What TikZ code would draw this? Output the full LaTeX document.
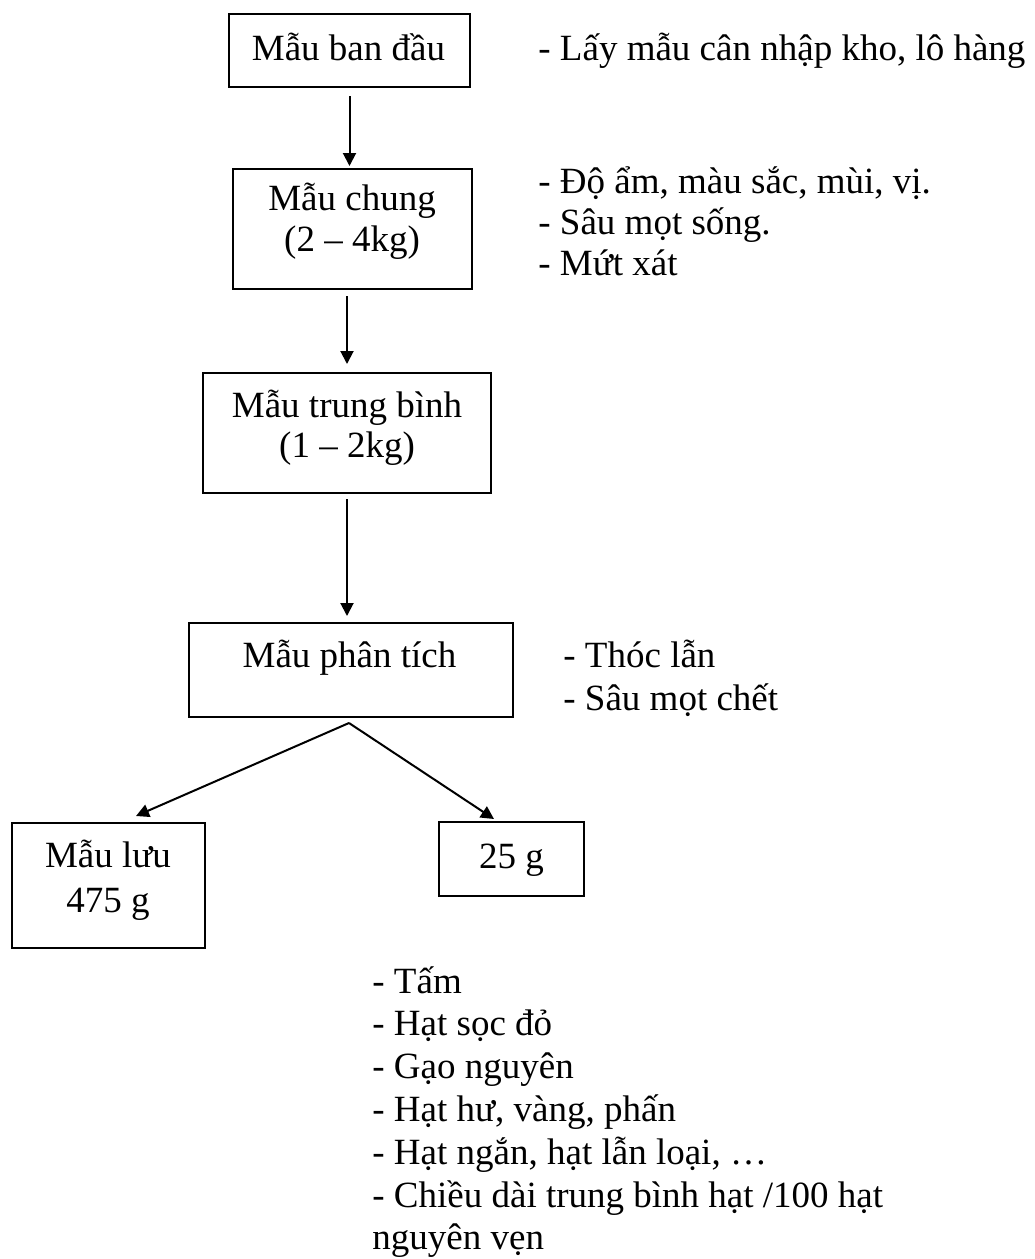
\documentclass[tikz,border=0pt]{standalone}
\usepackage{fontspec}
\setmainfont{Liberation Serif}
\usetikzlibrary{arrows.meta,calc}
\newcommand\bodysize{\fontsize{18.5pt}{21pt}\selectfont}
\begin{document}
\begin{tikzpicture}[x=0.5pt,y=-0.5pt,
  stepbox/.style={draw,line width=1pt,inner sep=0pt},
  txt/.style={inner sep=0pt,font=\bodysize,anchor=base},
  note/.style={inner sep=0pt,font=\bodysize,anchor=base west},
  arr/.style={-{Triangle[length=6.5pt,width=6.5pt]},line width=1pt}]
\useasboundingbox (0,0) rectangle (1034,1259);

% boxes of the sampling chain
\node[stepbox,minimum width=120.5pt,minimum height=36.5pt] (b1) at (349.5,50.5) {};
\node[stepbox,minimum width=119.5pt,minimum height=60pt] (b2) at (352.5,229) {};
\node[stepbox,minimum width=144pt,minimum height=60pt] (b3) at (347,433) {};
\node[stepbox,minimum width=162pt,minimum height=47pt] (b4) at (351,670) {};
\node[stepbox,minimum width=96.5pt,minimum height=62.5pt] (b5) at (108.5,885.5) {};
\node[stepbox,minimum width=72.5pt,minimum height=37pt] (b6) at (511.5,859) {};

% box captions
\node[txt] (t1) at (348.5,60) {Mẫu ban đầu};
\node[txt] (t2a) at (352,210) {Mẫu chung};
\node[txt] (t2b) at (352,251) {(2 – 4kg)};
\node[txt] (t3a) at (347,417) {Mẫu trung bình};
\node[txt] (t3b) at (347,457) {(1 – 2kg)};
\node[txt] (t4) at (349.5,667) {Mẫu phân tích};
\node[txt] (t5a) at (108,867) {Mẫu lưu};
\node[txt] (t5b) at (108,912) {475 g};
\node[txt] (t6) at (511.5,868) {25 g};

% notes beside the boxes
\node[note] (n1) at (538,60) {- Lấy mẫu cân nhập kho, lô hàng};
\node[note] (n2a) at (538,193) {- Độ ẩm, màu sắc, mùi, vị.};
\node[note] (n2b) at (538,234) {- Sâu mọt sống.};
\node[note] (n2c) at (538,275) {- Mứt xát};
\node[note] (n4a) at (563,667) {- Thóc lẫn};
\node[note] (n4b) at (563,710) {- Sâu mọt chết};

% analyses of the 25 g portion
\node[note] (l1) at (372,993) {- Tấm};
\node[note] (l2) at (372,1035.8) {- Hạt sọc đỏ};
\node[note] (l3) at (372,1078.6) {- Gạo nguyên};
\node[note] (l4) at (372,1121.4) {- Hạt hư, vàng, phấn};
\node[note] (l5) at (372,1164.2) {- Hạt ngắn, hạt lẫn loại, …};
\node[note] (l6) at (372,1207) {- Chiều dài trung bình hạt /100 hạt};
\node[note] (l7) at (372,1249.8) {nguyên vẹn};

% vertical connectors
\draw[arr,shorten <=4pt,shorten >=1pt] (b1.south) -- (b1.south |- b2.north);
\draw[arr,shorten <=3pt,shorten >=4pt] (b3.north |- b2.south) -- (b3.north);
\draw[arr,shorten <=2.5pt,shorten >=3pt] (b3.south) -- (b3.south |- b4.north);

% split into the stored sample and the 25 g portion
\coordinate (ap) at ([xshift=-1pt,yshift=-2.5pt]b4.south);
\coordinate (e5) at ([xshift=13.75pt,yshift=3pt]b5.north);
\coordinate (e6) at ([xshift=-8.75pt,yshift=1pt]b6.north);
\draw[arr] (ap) -- (e5);
\draw[arr] (ap) -- (e6);
\end{tikzpicture}
\end{document}
